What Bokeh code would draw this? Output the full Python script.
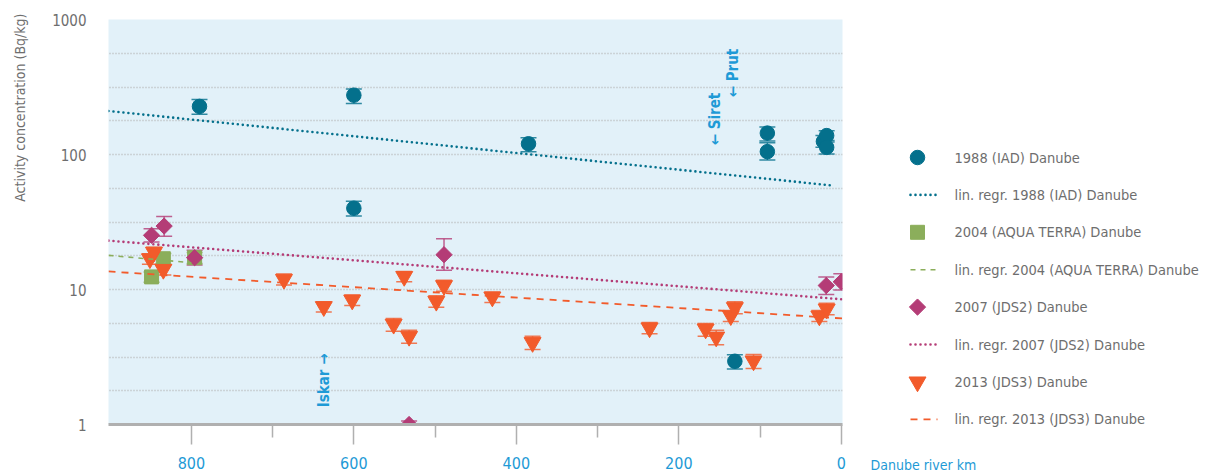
import math
from bokeh.plotting import figure
from bokeh.layouts import row
from bokeh.models import (Range1d, FixedTicker, PrintfTickFormatter, Whisker, TeeHead,
                          ColumnDataSource)
from bokeh.core.properties import value
from bokeh.embed import file_html
from bokeh.resources import INLINE

FONT = "DejaVu Sans Condensed"
GRAY = "#6e6e6e"
BLUE = "#1e9ad6"

# 1988 (IAD) Danube
iad_km = [790, 600, 600, 385, 91, 91, 22, 18, 18, 131]
iad_val = [227, 275, 40, 120, 144, 105, 125, 138, 113, 2.94]
iad_lo = [199, 239, 35, 105, 126, 91, 113, 127, 101, 2.58]
iad_hi = [255, 305, 45, 133, 160, 122, 138, 150, 124, 3.28]

# 2004 (AQUA TERRA) Danube
aqua_km = [849, 834.5, 796]
aqua_val = [12.4, 16.9, 17.2]
aqua_lo = [11.3, 15.3, 15.6]
aqua_hi = [13.5, 18.5, 18.8]

# 2007 (JDS2) Danube
jds2_km = [849, 833.5, 796, 489, 532, 18.5, 0]
jds2_val = [25.2, 29.5, 17.2, 18.1, 1.0, 10.7, 11.4]
jds2_lo = [22.5, 24.8, 15.2, 13.9, 0.94, 9.2, 9.9]
jds2_hi = [28.2, 34.8, 19.5, 23.8, 1.06, 12.4, 13.1]

# 2013 (JDS3) Danube
jds3_km = [851, 846, 834.5, 686, 637, 602, 551, 538, 532, 498.5, 489, 429.5,
           380, 236, 167, 154, 136, 131, 108, 27, 18]
jds3_val = [16.9, 18.9, 14.1, 11.9, 7.47, 8.36, 5.53, 12.5, 4.5, 8.18, 10.7, 8.8,
            4.05, 5.2, 5.1, 4.45, 6.4, 7.35, 2.96, 6.37, 7.17]
jds3_lo = [15.4, 17.2, 12.8, 10.8, 6.8, 7.6, 4.9, 11.4, 4.0, 7.4, 9.7, 8.0,
           3.6, 4.7, 4.5, 3.9, 5.8, 6.6, 2.6, 5.8, 6.5]
jds3_hi = [18.4, 20.6, 15.4, 13.0, 8.1, 9.1, 6.1, 13.6, 5.0, 9.0, 11.7, 9.6,
           4.5, 5.7, 5.6, 5.0, 7.0, 8.1, 3.3, 7.0, 7.9]

# regression lines (end points along the river)
reg_iad_km, reg_iad_val = [902, 12], [210, 59]
reg_aqua_km, reg_aqua_val = [902, 800], [17.9, 15.8]
reg_jds2_km, reg_jds2_val = [902, -1.5], [23.0, 8.45]
reg_jds3_km, reg_jds3_val = [902, -1.5], [13.6, 6.1]

x_major = [0, 200, 400, 600, 800]
x_minor = [100, 300, 500, 700]
y_labels = [1, 10, 100, 1000]

series_labels = ["1988 (IAD) Danube", "lin. regr. 1988 (IAD) Danube",
                 "2004 (AQUA TERRA) Danube", "lin. regr. 2004 (AQUA TERRA) Danube",
                 "2007 (JDS2) Danube", "lin. regr. 2007 (JDS2) Danube",
                 "2013 (JDS3) Danube", "lin. regr. 2013 (JDS3) Danube"]

C_IAD = "#04708c"
C_AQUA = "#8bae5b"
C_JDS2 = "#b43c76"
C_JDS3 = "#f25b2b"

MARK = dict(
    iad=dict(marker="circle", size=14.5, color=C_IAD),
    aqua=dict(marker="square", size=14, color=C_AQUA),
    jds2=dict(marker="square", angle=math.pi / 4, size=11.5, color=C_JDS2),
    jds3=dict(marker="inverted_triangle", size=17, color=C_JDS3),
)
LINE = dict(
    iad=dict(line_color=C_IAD, line_width=2.6, line_dash="0 5", line_cap="round"),
    aqua=dict(line_color=C_AQUA, line_width=1.6, line_dash="5 5"),
    jds2=dict(line_color=C_JDS2, line_width=2.6, line_dash="0 5", line_cap="round"),
    jds3=dict(line_color=C_JDS3, line_width=1.8, line_dash="7 6"),
)

PAD = 12  # room right of the frame for the last tick label


def blank(width, x0=0):
    f = figure(width=width, height=473, output_backend="svg", toolbar_location=None,
               x_range=Range1d(x0, x0 + width), y_range=Range1d(473, 0),
               x_axis_location=None, y_axis_location=None, min_border=0,
               frame_align=False)
    f.outline_line_color = None
    f.background_fill_color = "white"
    f.grid.visible = False
    return f


# ---- left strip: y axis title
left = blank(40)
left.text(x=[19], y=[13], text=["Activity concentration (Bq/kg)"], angle=math.pi / 2,
          text_align="right", text_baseline="middle", text_color=GRAY,
          text_font=value(FONT), text_font_size="14px")

# ---- main chart
p = figure(width=802 + PAD, height=473, output_backend="svg", toolbar_location=None,
           x_range=Range1d(902, -1.5), y_range=Range1d(1, 1000), y_axis_type="log",
           min_border_left=68, min_border_right=PAD, min_border_top=19,
           min_border_bottom=49, frame_align=False)
p.outline_line_color = None
p.background_fill_color = "#e2f1f9"
p.border_fill_color = "white"

# dotted grid every quarter decade
p.xgrid.visible = False
p.ygrid.ticker = FixedTicker(ticks=[10 ** (k / 4) for k in range(13)])
p.ygrid.grid_line_color = "#b4b4b4"
p.ygrid.grid_line_dash = "1 2"
p.ygrid.grid_line_width = 1.5

p.yaxis.ticker = FixedTicker(ticks=y_labels)
p.yaxis.formatter = PrintfTickFormatter(format="%d")
p.yaxis.axis_line_color = None
p.yaxis.major_tick_line_color = None
p.yaxis.minor_tick_line_color = None
p.yaxis.major_tick_out = 0
p.yaxis.major_label_standoff = 22
p.yaxis.major_label_text_font = FONT
p.yaxis.major_label_text_font_size = "15px"
p.yaxis.major_label_text_color = GRAY

p.xaxis.ticker = FixedTicker(ticks=x_major, minor_ticks=x_minor)
p.xaxis.axis_line_color = "#b0b0b0"
p.xaxis.axis_line_width = 3
p.xaxis.major_tick_line_color = "#b0b0b0"
p.xaxis.major_tick_line_width = 1.5
p.xaxis.major_tick_in = 0
p.xaxis.major_tick_out = 20
p.xaxis.minor_tick_line_color = "#b0b0b0"
p.xaxis.minor_tick_line_width = 1.5
p.xaxis.minor_tick_in = 0
p.xaxis.minor_tick_out = 13
p.xaxis.major_label_standoff = 12
p.xaxis.major_label_text_font = FONT
p.xaxis.major_label_text_font_size = "16px"
p.xaxis.major_label_text_color = BLUE


def error_bars(km, lo, hi, color):
    src = ColumnDataSource(dict(x=km, lo=lo, hi=hi))
    head = dict(size=16, line_color=color, line_width=1.5, line_alpha=0.8)
    p.add_layout(Whisker(base="x", lower="lo", upper="hi", source=src,
                         dimension="height", line_color=color, line_width=1.5,
                         line_alpha=0.8, upper_head=TeeHead(**head),
                         lower_head=TeeHead(**head)))


error_bars(aqua_km, aqua_lo, aqua_hi, C_AQUA)
error_bars(jds2_km, jds2_lo, jds2_hi, C_JDS2)
error_bars(jds3_km, jds3_lo, jds3_hi, C_JDS3)
error_bars(iad_km, iad_lo, iad_hi, C_IAD)

p.scatter(aqua_km, aqua_val, **MARK["aqua"])
p.scatter(jds2_km, jds2_val, **MARK["jds2"])
p.scatter(jds3_km, jds3_val, **MARK["jds3"])
p.scatter(iad_km, iad_val, **MARK["iad"])

p.line(reg_iad_km, reg_iad_val, **LINE["iad"])
p.line(reg_aqua_km, reg_aqua_val, **LINE["aqua"])
p.line(reg_jds2_km, reg_jds2_val, **LINE["jds2"])
p.line(reg_jds3_km, reg_jds3_val, **LINE["jds3"])

# tributary confluences
p.text(x=[637, 155, 133.4], y=[1.34, 117, 265],
       text=["Iskar \u2192", "\u2190 Siret", "\u2190 Prut"], angle=math.pi / 2,
       text_align="left", text_baseline="middle", text_color=BLUE,
       text_font=value(FONT), text_font_size="15px", text_font_style="bold")

# ---- right strip: key and x axis title (x measured from the frame's right edge)
right = blank(363 - PAD, x0=PAD)
keys = ["iad", "iad", "aqua", "aqua", "jds2", "jds2", "jds3", "jds3"]
rows_y = [157 + 37.4 * i for i in range(8)]
for i, (k, yy) in enumerate(zip(keys, rows_y)):
    if i % 2 == 0:
        right.scatter([75], [yy], **MARK[k])
    else:
        right.line([68, 95], [yy, yy], **LINE[k])
right.text(x=[112] * 8, y=rows_y, text=series_labels, text_align="left",
           text_baseline="middle", text_color=GRAY, text_font=value(FONT),
           text_font_size="14.5px")
right.text(x=[28], y=[464], text=["Danube river km"], text_align="left",
           text_baseline="middle", text_color=BLUE, text_font=value(FONT),
           text_font_size="14px")

layout = row(left, p, right, spacing=0)
open("out.html", "w").write(file_html(layout, INLINE))
